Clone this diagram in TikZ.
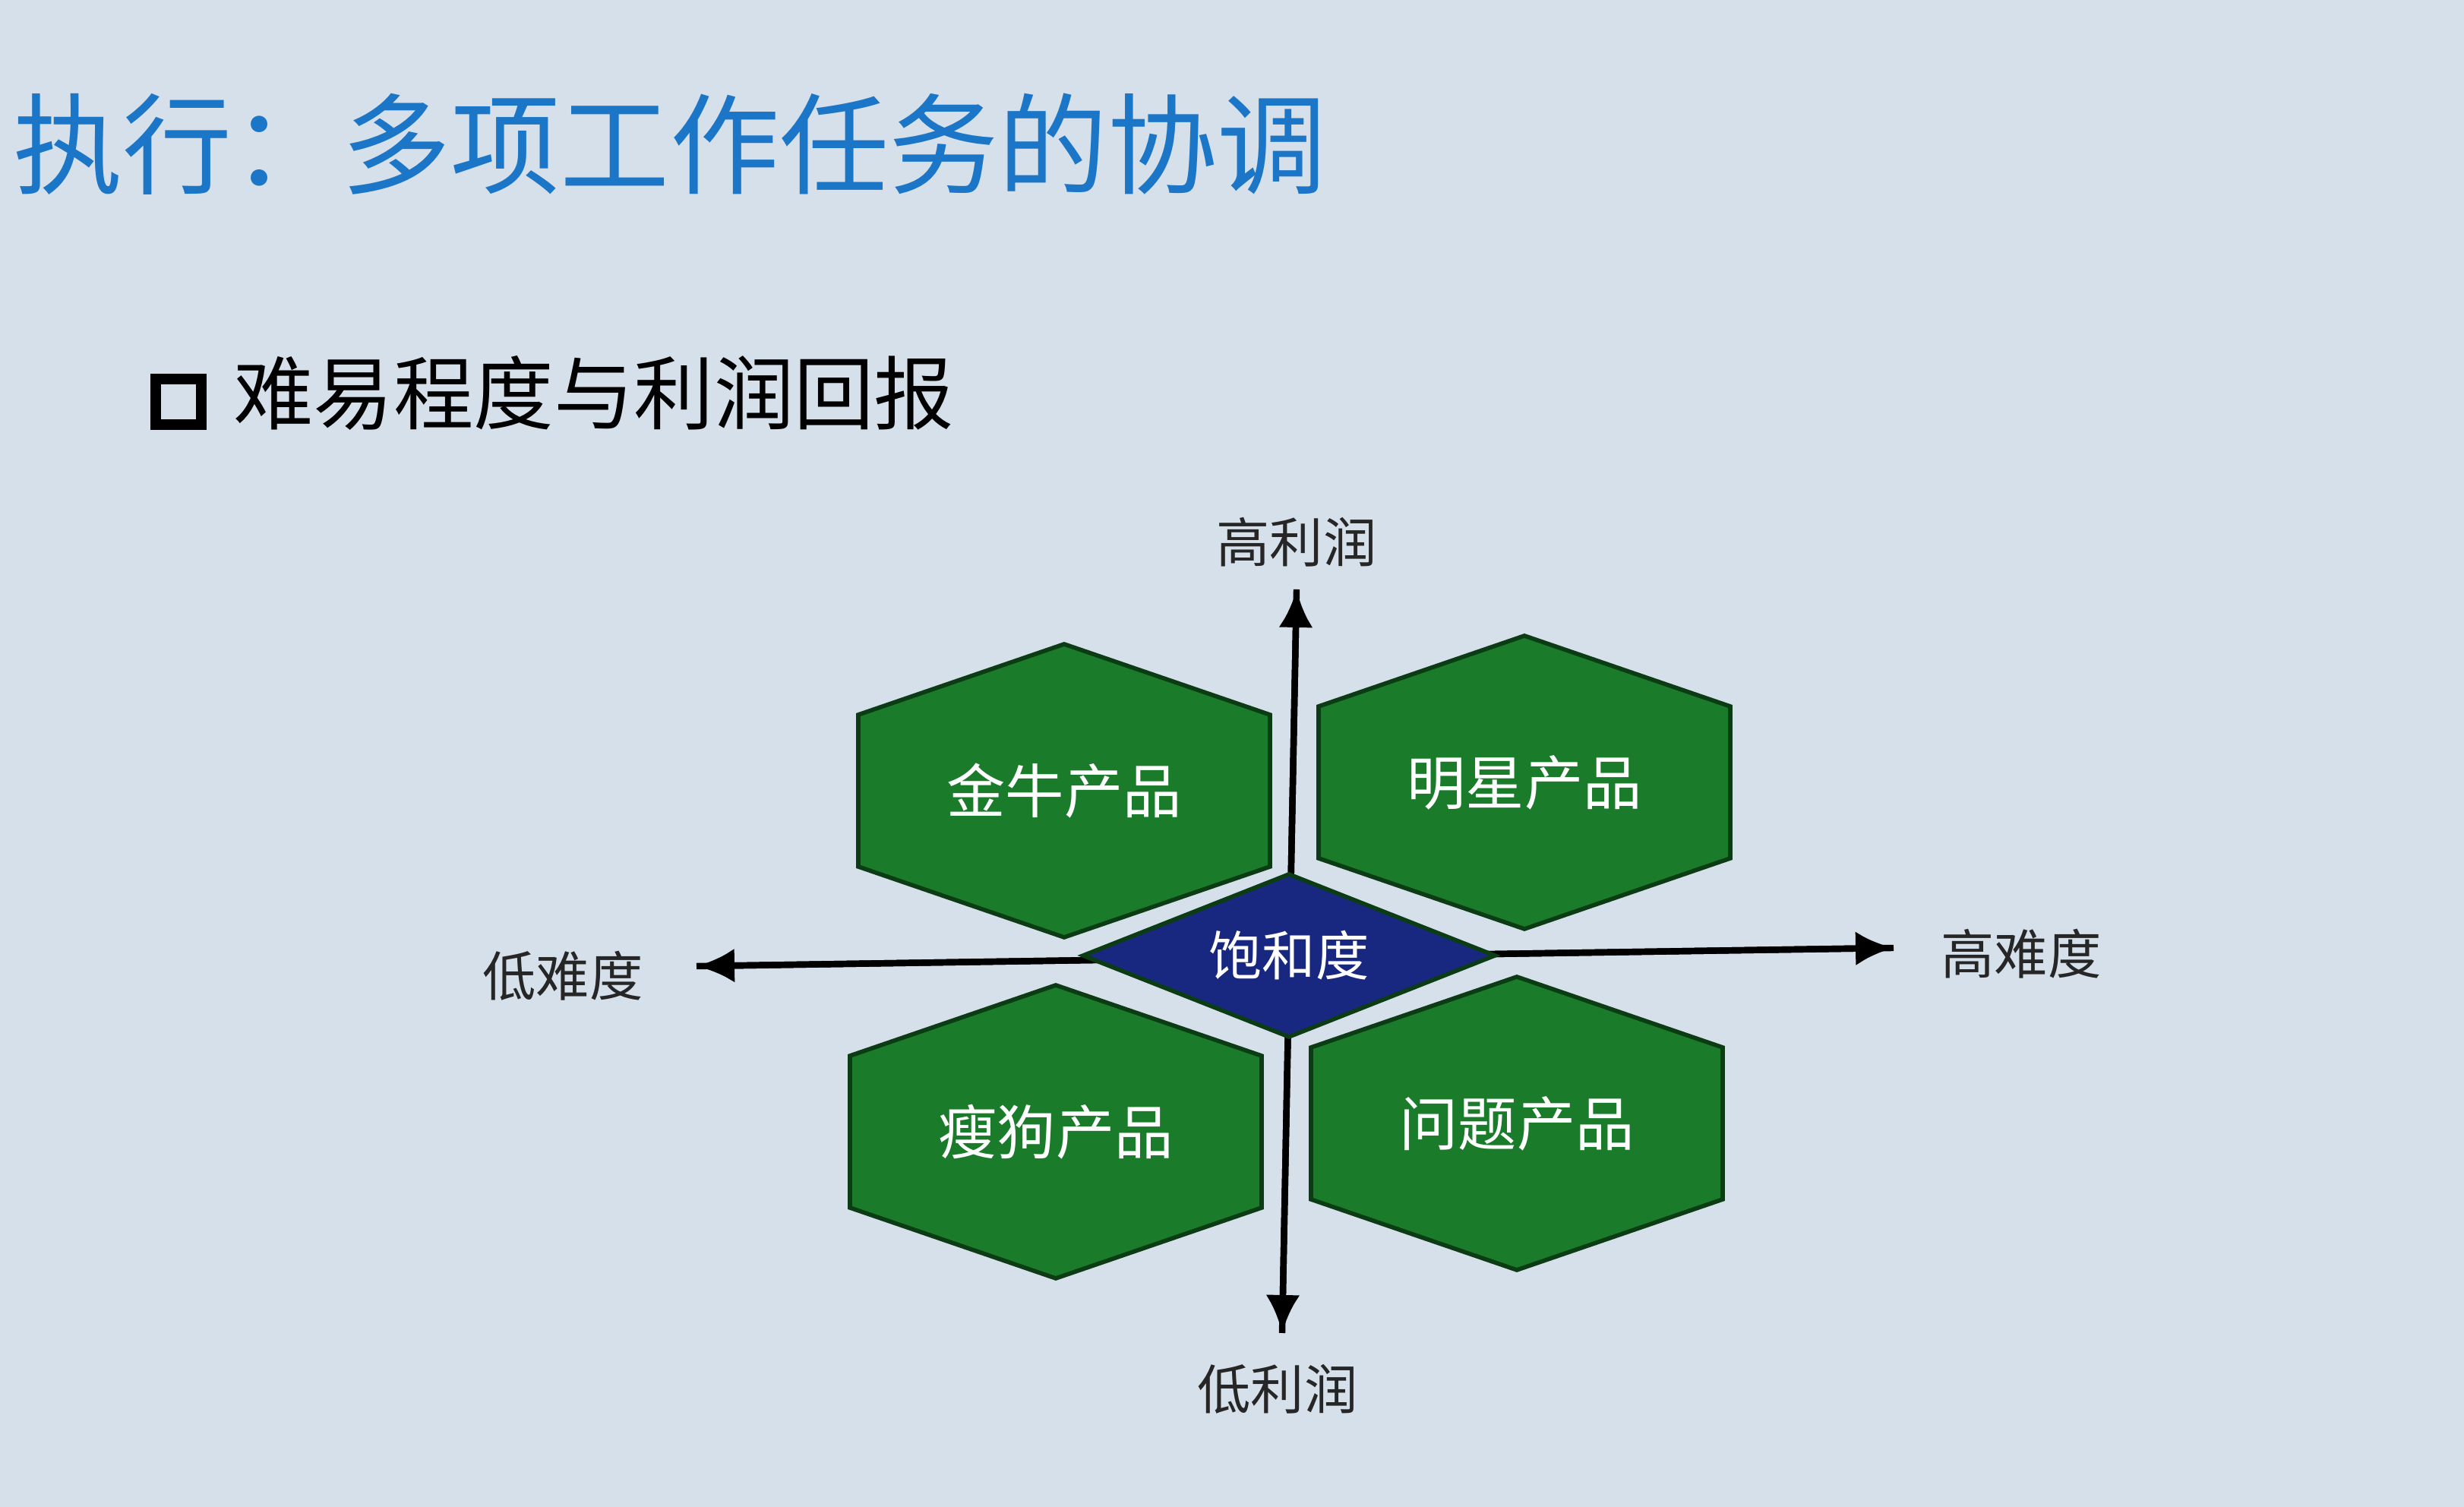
\documentclass[tikz,border=0pt]{standalone}
\usepackage{fontspec}
\setmainfont{Noto Sans CJK SC}
\usetikzlibrary{arrows.meta}
\definecolor{slidebg}{RGB}{214,224,234}
\definecolor{titleblue}{RGB}{28,118,200}
\definecolor{hexgreen}{RGB}{26,124,42}
\definecolor{hexedge}{RGB}{12,60,20}
\definecolor{navy}{RGB}{24,40,128}
\begin{document}
\begin{tikzpicture}[
    hexlabel/.style={font=\fontsize{22}{26}\selectfont, text=white},
    hexa/.style={fill=hexgreen, draw=hexedge, line width=1.6pt},
    axis/.style={line width=2.4pt, -{Latex[length=0.5cm,width=0.45cm]}},
    axlabel/.style={font=\fontsize{20}{24}\selectfont, text=black!85}
  ]
  \fill[slidebg] (0,0) rectangle (32.44,19.84);
  \useasboundingbox (0,0) rectangle (32.44,19.84);
  % Heading
  \node[anchor=west, text=titleblue, font=\fontsize{41}{48}\selectfont]
    (title) at (0.05,17.94) {执行：多项工作任务的协调};
  \node[draw=black, line width=4pt, minimum size=0.6cm, inner sep=0pt]
    (bullet) at (2.35,14.55) {};
  \node[anchor=west, font=\fontsize{30}{36}\selectfont]
    (sub) at (2.95,14.67) {难易程度与利润回报};
  % Axes
  \coordinate (vtop) at (17.07,12.08);
  \coordinate (vbot) at (16.88,2.29);
  \coordinate (hleft) at (9.17,7.12);
  \coordinate (hright) at (24.93,7.36);
  \draw[axis] (vbot) -- (vtop);
  \draw[axis] (vtop) -- (vbot);
  \draw[axis] (hright) -- (hleft);
  \draw[axis] (hleft) -- (hright);
  \node[axlabel] (hiprofit) at (17.07,12.70) {高利润};
  \node[axlabel] (loprofit) at (16.82,1.55) {低利润};
  \node[axlabel] (lodiff) at (7.41,6.99) {低难度};
  \node[axlabel] (hidiff) at (26.61,7.28) {高难度};
  % Quadrants
  \foreach \n/\p in {cow/{14.01,9.43}, star/{20.07,9.54},
                     dog/{13.90,4.94}, quest/{19.97,5.05}}
    \draw[hexa] (\p) ++(0,1.93) -- ++(2.71,-0.93) -- ++(0,-2.0)
      -- ++(-2.71,-0.93) -- ++(-2.71,0.93) -- ++(0,2.0) -- cycle;
  \node[hexlabel] (cow) at (14.01,9.43) {金牛产品};
  \node[hexlabel] (star) at (20.07,9.54) {明星产品};
  \node[hexlabel] (dog) at (13.90,4.94) {瘦狗产品};
  \node[hexlabel] (quest) at (19.97,5.05) {问题产品};
  % Centre
  \draw[fill=navy, draw=hexedge, line width=1.6pt] (16.97,7.26) ++(-2.71,0)
    -- ++(2.71,1.07) -- ++(2.71,-1.07) -- ++(-2.71,-1.07) -- cycle;
  \node[hexlabel, font=\fontsize{20}{24}\selectfont] (sat) at (16.97,7.26) {饱和度};
\end{tikzpicture}
\end{document}
